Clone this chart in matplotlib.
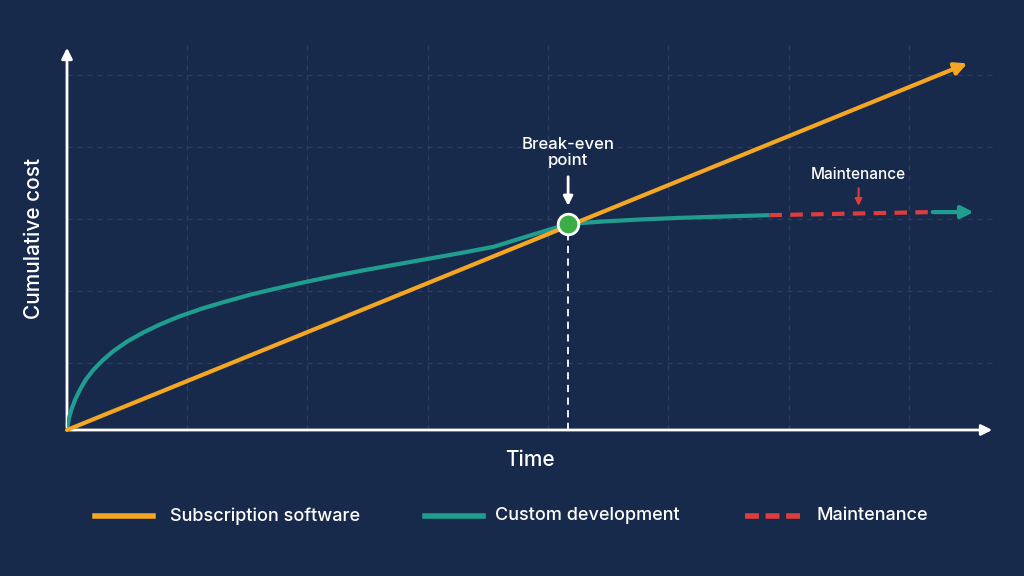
import matplotlib
matplotlib.use("Agg")
import matplotlib.pyplot as plt

BG = "#182a4b"
ORANGE = "#f5a623"
TEAL = "#1f9e8f"
RED = "#e03c3c"

# data in normalized time / cost units
sub_x = [0.0, 0.973]
sub_y = [0.0, 0.955]
custom_x = [0.0, 0.002, 0.005, 0.009, 0.014, 0.02, 0.028, 0.038, 0.05, 0.065, 0.082, 0.1, 0.12, 0.145,
            0.17, 0.2, 0.23, 0.26, 0.29, 0.32, 0.355, 0.39, 0.425, 0.46, 0.5, 0.54, 0.58, 0.62, 0.66,
            0.7, 0.757]
custom_y = [0.0, 0.03, 0.055, 0.08, 0.105, 0.13, 0.155, 0.18, 0.205, 0.23, 0.253, 0.274, 0.294, 0.315,
            0.333, 0.353, 0.37, 0.386, 0.401, 0.415, 0.43, 0.445, 0.46, 0.476, 0.506, 0.535, 0.542,
            0.547, 0.551, 0.554, 0.558]
maint_x = [0.757, 0.93]
maint_y = [0.558, 0.566]
tail_x = [0.93, 0.98]
tail_y = [0.566, 0.566]
be_x, be_y = 0.54, 0.535

fig = plt.figure(figsize=(10.24, 5.76), dpi=100, facecolor=BG)
ax = fig.add_axes([67/1024, 1-430/576, (995-67)/1024, (430-45)/576])
ax.set_facecolor(BG)
ax.set_xlim(0, 1)
ax.set_ylim(0, 1)
for s in ax.spines.values():
    s.set_visible(False)
ax.set_xticks([])
ax.set_yticks([])

gc = "#2c3f63"
for gx in [120/928, 240/928, 361/928, 481/928, 601/928, 722/928, 842/928]:
    ax.axvline(gx, color=gc, lw=0.9, ls=(0, (4, 4)), zorder=0)
for gy in [67/385, 139/385, 211/385, 283/385, 355/385]:
    ax.axhline(gy, color=gc, lw=0.9, ls=(0, (4, 4)), zorder=0)

ax.annotate("", xy=(1.0, 0), xytext=(0, 0), xycoords="axes fraction",
            arrowprops=dict(arrowstyle="-|>", color="white", lw=2, mutation_scale=16), annotation_clip=False)
ax.annotate("", xy=(0, 1.0), xytext=(0, 0), xycoords="axes fraction",
            arrowprops=dict(arrowstyle="-|>", color="white", lw=2, mutation_scale=16), annotation_clip=False)

ax.plot(custom_x, custom_y, color=TEAL, lw=3, solid_capstyle="butt", solid_joinstyle="round", zorder=3)
ax.plot(maint_x, maint_y, color=RED, lw=3, ls=(0, (3, 2)), zorder=3)
ax.annotate("", xy=(tail_x[1], tail_y[1]), xytext=(tail_x[0], tail_y[0]),
            arrowprops=dict(arrowstyle="-|>", color=TEAL, lw=3, mutation_scale=18), zorder=3)
ax.annotate("", xy=(sub_x[1], sub_y[1]), xytext=(sub_x[0], sub_y[0]),
            arrowprops=dict(arrowstyle="-|>", color=ORANGE, lw=3, mutation_scale=18, shrinkA=0), zorder=4)

ax.plot([be_x, be_x], [0, be_y], color="white", lw=1.3, ls=(0, (4, 3)), zorder=2)
ax.scatter([be_x], [be_y], s=220, color="#3cae47", edgecolor="white", linewidth=2, zorder=6)
ax.annotate("", xy=(be_x, be_y + 0.04), xytext=(be_x, be_y + 0.13),
            arrowprops=dict(arrowstyle="-|>", color="white", lw=2, mutation_scale=14))
ax.text(be_x, be_y + 0.145, "Break-even\npoint", color="white", ha="center", va="bottom",
        fontsize=12, family="Inter", weight="medium", linespacing=1.1)
ax.annotate("", xy=(0.853, 0.575), xytext=(0.853, 0.635),
            arrowprops=dict(arrowstyle="-|>", color=RED, lw=1.5, mutation_scale=10))
ax.text(0.853, 0.645, "Maintenance", color="white", ha="center", va="bottom", fontsize=11,
        family="Inter", weight="medium")

fig.text(530/1024, 1-460/576, "Time", color="white", ha="center", va="center", fontsize=15,
         family="Inter", weight="medium")
fig.text(34/1024, 1-238/576, "Cumulative cost", color="white", ha="center", va="center",
         fontsize=15, family="Inter", weight="medium", rotation=90)

ly = 1-516/576
items = [(95, 153, ORANGE, "-", "Subscription software", 170),
         (425, 483, TEAL, "-", "Custom development", 495),
         (745, 800, RED, (0, (2.5, 1.2)), "Maintenance", 817)]
for x0, x1, c, ls, lab, tx in items:
    fig.add_artist(plt.Line2D([x0/1024, x1/1024], [ly, ly], color=c, lw=4, ls=ls))
    fig.text(tx/1024, ly, lab, color="white", ha="left", va="center", fontsize=13,
             family="Inter", weight="medium")

fig.savefig("out.png", dpi=100, facecolor=BG)
